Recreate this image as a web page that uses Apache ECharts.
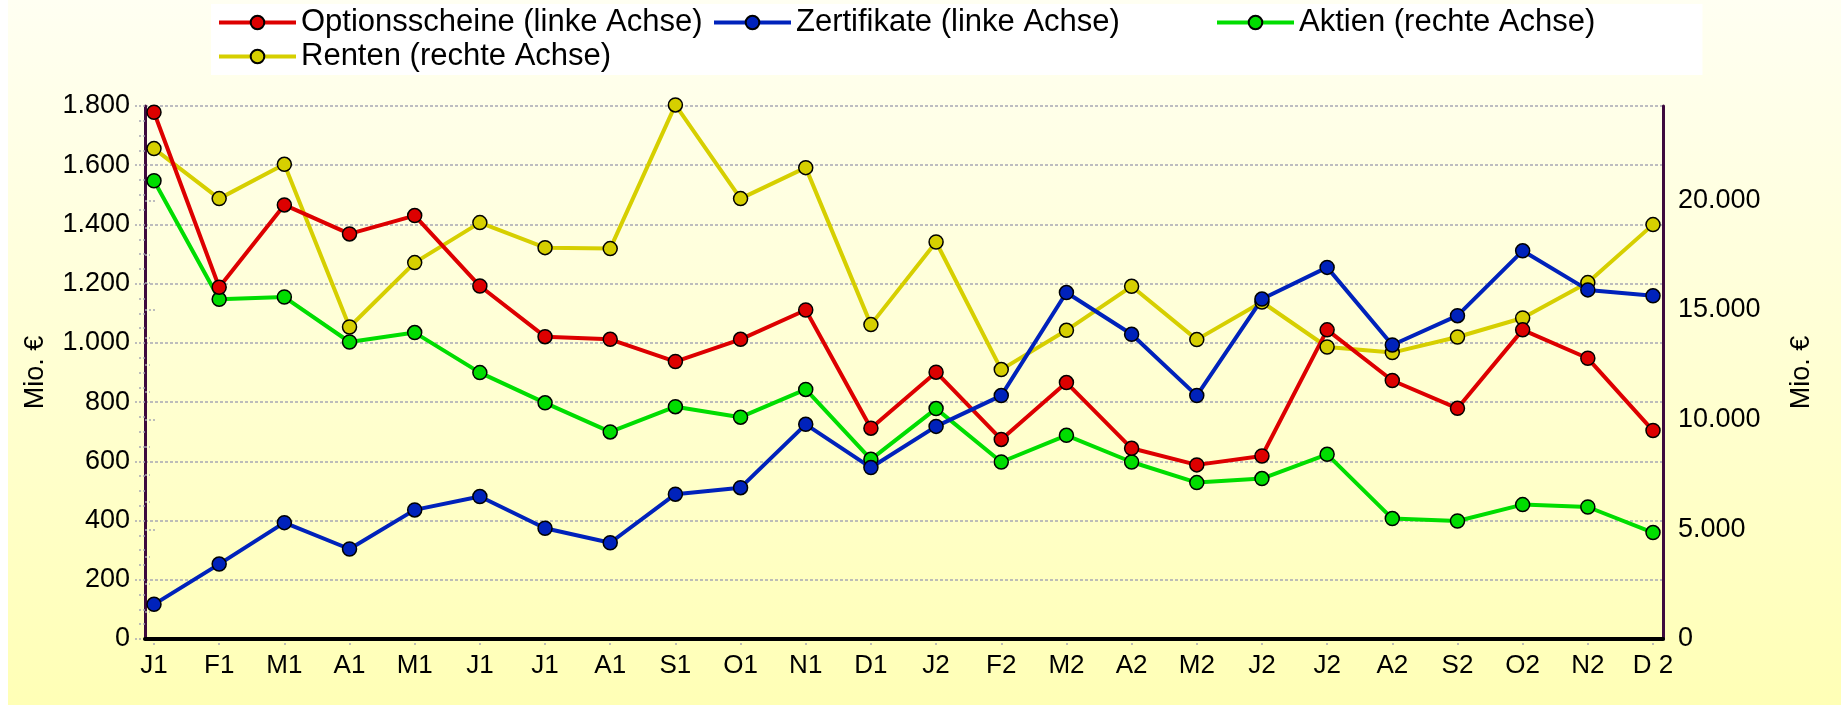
<!DOCTYPE html>
<html>
<head>
<meta charset="utf-8">
<title>Mio. €</title>
<script src="https://cdn.jsdelivr.net/npm/echarts@6/dist/echarts.min.js"></script>
<style>
  html, body { margin: 0; padding: 0; background: #fff; }
  #main {
    width: 1841px;
    height: 705px;
    /* gelber Verlauf, links ein schmaler weisser Rand */
    background: linear-gradient(#fffff2, #ffffb6) no-repeat 8px 0 / 1833px 705px;
  }
</style>
</head>
<body>
<div id="main"></div>
<script>
// Daten
const categories = ['J1', 'F1', 'M1', 'A1', 'M1', 'J1', 'J1', 'A1', 'S1', 'O1', 'N1', 'D1',
  'J2', 'F2', 'M2', 'A2', 'M2', 'J2', 'J2', 'A2', 'S2', 'O2', 'N2', 'D 2']

// linke Achse
const optionsscheine = [1779, 1188, 1466, 1368, 1430, 1192, 1021, 1012, 937, 1012, 1111, 712,
  901, 674, 866, 644, 588, 618, 1044, 873, 779, 1044, 948, 704]
const zertifikate = [117, 253, 393, 304, 436, 481, 374, 325, 489, 511, 725, 579,
  718, 822, 1170, 1029, 822, 1148, 1255, 993, 1092, 1311, 1179, 1159]

// rechte Achse
const aktien = [20894, 15486, 15591, 13540, 13969, 12145, 10768, 9440, 10593, 10114, 11377, 8192,
  10504, 8069, 9287, 8069, 7130, 7313, 8420, 5489, 5380, 6127, 6018, 4851]
const renten = [22357, 20078, 21641, 14224, 17160, 18983, 17843, 17798, 24350, 20078, 21490, 14333,
  18099, 12282, 14073, 16080, 13649, 15364, 13312, 13057, 13768, 14634, 16248, 18892]

const names = ['Optionsscheine (linke Achse)', 'Zertifikate (linke Achse)', 'Aktien (rechte Achse)', 'Renten (rechte Achse)']

// Achsen
const leftMax = 1800
const leftInterval = 200
const rightMax = 24300
const rightTickMax = 20000
const rightInterval = 5000
const axisName = 'Mio. €'

const chartDom = document.getElementById('main')
const myChart = echarts.init(chartDom)

const font = "'Liberation Sans', Arial, sans-serif"
const de = v => String(v).replace(/\B(?=(\d{3})+(?!\d))/g, '.')

// Plotbereich
const plotTop = 106
const plotBottom = 66
const plotHeight = 705 - plotTop - plotBottom
const tickGridTop = plotTop + plotHeight * (rightMax - rightTickMax) / rightMax

const purple = '#3e0a3e'
const grey = '#a8a8b4'

const makeSeries = (name, data, color, yAxisIndex) => ({
  name: name,
  type: 'line',
  xAxisIndex: 0,
  yAxisIndex: yAxisIndex,
  data: data,
  symbol: 'circle',
  symbolSize: 14,
  showAllSymbol: true,
  clip: false,
  lineStyle: { color: color, width: 4 },
  itemStyle: { color: color, borderColor: '#000', borderWidth: 1.5 },
  emphasis: { disabled: true }
})

// Legende in Spalten
const makeLegend = (data, left, extra) => Object.assign({
  data: data,
  left: left,
  top: 4,
  orient: 'vertical',
  itemWidth: 77,
  itemHeight: 17,
  itemGap: 3,
  selectedMode: false,
  lineStyle: { width: 4 },
  textStyle: { fontSize: 31, color: '#000', fontFamily: font }
}, extra)

const option = {
  animation: false,
  textStyle: { fontFamily: font },
  legend: [
    makeLegend([names[0], names[3]], 211, { padding: [3, 1000, 3, 6], backgroundColor: '#fff', z: 4 }),
    makeLegend([names[1]], 712, { padding: [3, 0, 3, 0], z: 5 }),
    makeLegend([names[2]], 1215, { padding: [3, 0, 3, 0], z: 5 })
  ],
  grid: [
    // Daten
    { left: 154, right: 188, top: plotTop, bottom: plotBottom },
    // Rahmen, Gitter, Beschriftung
    { left: 145, right: 178, top: plotTop, bottom: plotBottom },
    // Teilstriche rechte Achse
    { left: 145, right: 178, top: tickGridTop, bottom: plotBottom }
  ],
  xAxis: [
    {
      type: 'category',
      gridIndex: 0,
      data: categories,
      boundaryGap: false,
      axisLine: { show: false },
      axisTick: { show: true, length: 7, lineStyle: { color: grey, width: 1.5, type: [2, 2] } },
      axisLabel: { interval: 0, fontSize: 26, color: '#000', margin: 14 },
      splitLine: { show: false }
    },
    {
      type: 'value',
      gridIndex: 1,
      min: 0,
      max: 1,
      axisLine: { show: true, lineStyle: { color: '#000', width: 4 } },
      axisTick: { show: false },
      axisLabel: { show: false },
      splitLine: { show: false },
      z: 5
    },
    { type: 'value', gridIndex: 2, show: false }
  ],
  yAxis: [
    { type: 'value', gridIndex: 0, position: 'left', min: 0, max: leftMax, show: false },
    { type: 'value', gridIndex: 0, position: 'right', min: 0, max: rightMax, show: false },
    {
      type: 'value',
      gridIndex: 1,
      position: 'left',
      min: 0,
      max: leftMax,
      interval: leftInterval,
      name: axisName,
      nameLocation: 'middle',
      nameRotate: 90,
      nameGap: 96,
      nameTextStyle: { fontSize: 27, color: '#000' },
      axisLine: { show: true, lineStyle: { color: purple, width: 3 } },
      axisTick: { show: true, length: 12, lineStyle: { color: grey, width: 1.5, type: [2, 2] } },
      minorTick: { show: true, splitNumber: 4, length: 8, lineStyle: { color: grey, width: 1.5, type: [2, 2] } },
      axisLabel: { fontSize: 27, color: '#000', margin: 15, formatter: de },
      splitLine: { show: true, lineStyle: { color: grey, width: 1.5, type: [3, 2] } }
    },
    {
      type: 'value',
      gridIndex: 1,
      position: 'right',
      min: 0,
      max: rightMax,
      interval: rightInterval,
      name: axisName,
      nameLocation: 'middle',
      nameRotate: 90,
      nameGap: 125,
      nameTextStyle: { fontSize: 27, color: '#000' },
      axisLine: { show: true, lineStyle: { color: purple, width: 3 } },
      axisTick: { show: false },
      axisLabel: { fontSize: 27, color: '#000', margin: 15, showMaxLabel: false, formatter: de },
      splitLine: { show: false }
    },
    {
      type: 'value',
      gridIndex: 2,
      position: 'right',
      min: 0,
      max: rightTickMax,
      interval: rightInterval,
      axisLine: { show: false },
      axisTick: { show: true, length: 11, lineStyle: { color: grey, width: 1.5, type: [2, 2] } },
      minorTick: { show: true, splitNumber: 4, length: 5, lineStyle: { color: grey, width: 1.5, type: [2, 2] } },
      axisLabel: { show: false },
      splitLine: { show: false }
    }
  ],
  series: [
    makeSeries(names[3], renten, '#d6cf00', 1),
    makeSeries(names[2], aktien, '#00dd00', 1),
    makeSeries(names[0], optionsscheine, '#dd0000', 0),
    makeSeries(names[1], zertifikate, '#0022bb', 0)
  ]
}

option && myChart.setOption(option)
</script>
</body>
</html>
